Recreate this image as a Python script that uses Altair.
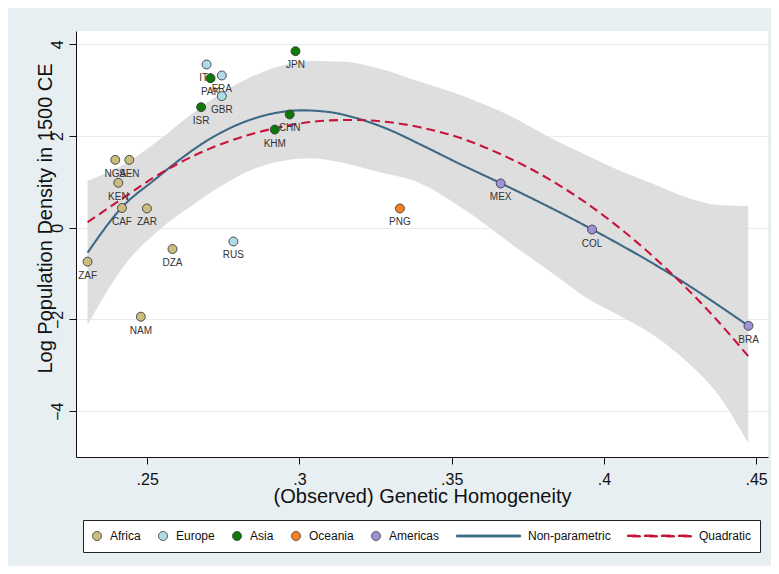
import altair as alt
import pandas as pd

# ---------------- data ----------------
country = ["ZAF", "NAM", "DZA", "ZAR", "CAF", "KEN", "NGA", "SEN",
           "RUS", "ITA", "FRA", "GBR",
           "PAK", "ISR", "KHM", "CHN", "JPN",
           "PNG",
           "MEX", "COL", "BRA"]
region = ["Africa"] * 8 + ["Europe"] * 4 + ["Asia"] * 5 + ["Oceania"] + ["Americas"] * 3
homogeneity = [0.2304, 0.2479, 0.2583, 0.2499, 0.2417, 0.2405, 0.2395, 0.2441,
               0.2783, 0.2695, 0.2745, 0.2745,
               0.2708, 0.2677, 0.2919, 0.2968, 0.2987,
               0.3330,
               0.3661, 0.3961, 0.4475]
log_density = [-0.74, -1.94, -0.465, 0.42, 0.43, 0.98, 1.48, 1.48,
               -0.30, 3.56, 3.32, 2.87,
               3.26, 2.63, 2.14, 2.47, 3.85,
               0.42,
               0.965, -0.04, -2.14]

# non-parametric fit
np_x = [0.2304, 0.2419, 0.2525, 0.2594, 0.2704, 0.2841, 0.2920, 0.3007, 0.3100,
        0.3182, 0.3297, 0.3396, 0.3527, 0.3662, 0.3961, 0.4233, 0.4474]
np_y = [-0.545, 0.46, 1.05, 1.42, 1.93, 2.36, 2.50, 2.56, 2.52,
        2.40, 2.13, 1.82, 1.39, 0.968, -0.035, -1.069, -2.137]

# quadratic fit
quad_x = [0.2304, 0.2419, 0.2525, 0.2704, 0.2841, 0.2920, 0.3007, 0.3100, 0.3182, 0.3297,
          0.3396, 0.3527, 0.3662, 0.3817, 0.3961, 0.4100, 0.4233, 0.4350, 0.4474]
quad_y = [0.12, 0.64, 1.11, 1.72, 2.04, 2.17, 2.28, 2.34, 2.35, 2.30,
          2.19, 1.96, 1.60, 1.07, 0.45, -0.27, -1.07, -1.86, -2.80]

# confidence band of the non-parametric fit
band_x = [0.2304, 0.2430, 0.2539, 0.2649, 0.2759, 0.2841, 0.2930, 0.3040, 0.3149, 0.3259,
          0.3379, 0.3544, 0.3708, 0.3817, 0.3954, 0.4047, 0.4157, 0.4266, 0.4376, 0.4474]
band_hi = [1.025, 1.405, 1.913, 2.495, 3.003, 3.287, 3.511, 3.636, 3.620, 3.477,
           3.222, 2.857, 2.386, 1.985, 1.549, 1.258, 0.968, 0.676, 0.495, 0.473]
band_lo = [-2.122, -0.776, -0.050, 0.495, 0.975, 1.258, 1.439, 1.514, 1.405, 1.215,
           1.019, 0.386, -0.414, -0.923, -1.577, -1.904, -2.318, -2.885, -3.648, -4.702]

groups = ["Africa", "Europe", "Asia", "Oceania", "Americas", "Non-parametric", "Quadratic"]
fill_colors = ["#cbbd80", "#aedaea", "#0b7a0b", "#f5821f", "#9d92d9", "#3e6986", "#c8143c"]
stroke_colors = ["#3a3a3a"] * 5 + ["#3e6986", "#c8143c"]
solid_path = "M-1,-0.03H1V0.03H-1Z"
dash_path = ("M-1,-0.03H-0.594V0.03H-1Z M-0.469,-0.03H-0.063V0.03H-0.469Z "
             "M0.063,-0.03H0.469V0.03H0.063Z M0.594,-0.03H1V0.03H0.594Z")
shapes = ["circle"] * 5 + [solid_path, dash_path]
sizes = [80] * 5 + [4096, 4096]

# ---------------- tables ----------------
pts = pd.DataFrame({"country": country, "group": region,
                    "x": homogeneity, "y": log_density})
lines = pd.concat([
    pd.DataFrame({"x": np_x, "y": np_y, "group": "Non-parametric"}),
    pd.DataFrame({"x": quad_x, "y": quad_y, "group": "Quadratic"}),
], ignore_index=True)
band = pd.DataFrame({"x": band_x, "lo": band_lo, "hi": band_hi})

FONT = "Liberation Sans"
xscale = alt.Scale(domain=[0.2266, 0.4539], nice=False, zero=False)
yscale = alt.Scale(domain=[-5.0, 4.29], nice=False, zero=False)

leg = alt.Legend(title=None, orient="none", legendX=7, legendY=489, direction="horizontal")
fill_scale = alt.Scale(domain=groups, range=fill_colors)
stroke_scale = alt.Scale(domain=groups, range=stroke_colors)
shape_scale = alt.Scale(domain=groups, range=shapes)
size_scale = alt.Scale(type="ordinal", domain=groups, range=sizes)

xenc = alt.X("x:Q", scale=xscale, axis=alt.Axis(
    values=[0.25, 0.3, 0.35, 0.4, 0.45],
    labelExpr="replace(format(datum.value, '.2~f'), '0.', '.')",
    title="(Observed) Genetic Homogeneity", grid=False, labelPadding=7,
    titleY=39, titleBaseline="middle"))
yenc = alt.Y("y:Q", scale=yscale, axis=alt.Axis(
    values=[-4, -2, 0, 2, 4], labelAngle=270, labelAlign="center", labelBaseline="bottom",
    title="Log Population Density in 1500 CE", grid=True, labelPadding=4,
    titleAngle=270, titleAlign="center", titleBaseline="middle", titleX=-31, titleY=187))

band_layer = alt.Chart(band).mark_area(color="#dedede", opacity=1, interpolate="monotone").encode(
    x=xenc, y=alt.Y("lo:Q", scale=yscale), y2="hi:Q")

line_layer = alt.Chart(lines).mark_line(strokeWidth=2.1, interpolate="monotone").encode(
    x="x:Q", y="y:Q",
    stroke=alt.Stroke("group:N", scale=stroke_scale, legend=leg),
    strokeDash=alt.StrokeDash("group:N", scale=alt.Scale(domain=groups,
                              range=[[1, 0]] * 6 + [[9, 5]]), legend=None),
    detail="group:N", order="x:Q")

text_layer = alt.Chart(pts).mark_text(font=FONT, fontSize=10, color="#333333",
                                      baseline="middle", dy=14).encode(
    x="x:Q", y="y:Q", text="country:N")

point_layer = alt.Chart(pts).mark_point(filled=True, opacity=1, strokeWidth=0.9).encode(
    x=xenc, y=yenc,
    fill=alt.Fill("group:N", scale=fill_scale, legend=leg),
    stroke=alt.Stroke("group:N", scale=stroke_scale, legend=leg),
    shape=alt.Shape("group:N", scale=shape_scale, legend=leg),
    size=alt.Size("group:N", scale=size_scale, legend=leg))

chart = alt.layer(band_layer, line_layer, text_layer, point_layer).properties(
    width=692, height=426, background="#e8eff2",
    padding={"left": 68, "top": 23, "right": 3, "bottom": 109},
    autosize=alt.AutoSizeParams(type="none"),
).configure_view(fill="white", stroke=None).configure_axis(
    labelFont=FONT, labelFontSize=16, labelColor="#111111",
    titleFont=FONT, titleFontSize=20, titleFontWeight="normal", titleColor="#111111",
    domainColor="#111111", domainWidth=1, tickColor="#111111", tickSize=7, tickWidth=1,
    gridColor="#e3ecef", gridWidth=1.2,
).configure_legend(
    fillColor="white", strokeColor="#222222", strokeWidth=1, padding=8, cornerRadius=0,
    labelFont=FONT, labelFontSize=12, labelColor="#111111", labelOffset=7,
    symbolStrokeWidth=1, columnPadding=16, clipHeight=16,
)

chart.save("out.html", embed_options={"renderer": "svg", "actions": False})
